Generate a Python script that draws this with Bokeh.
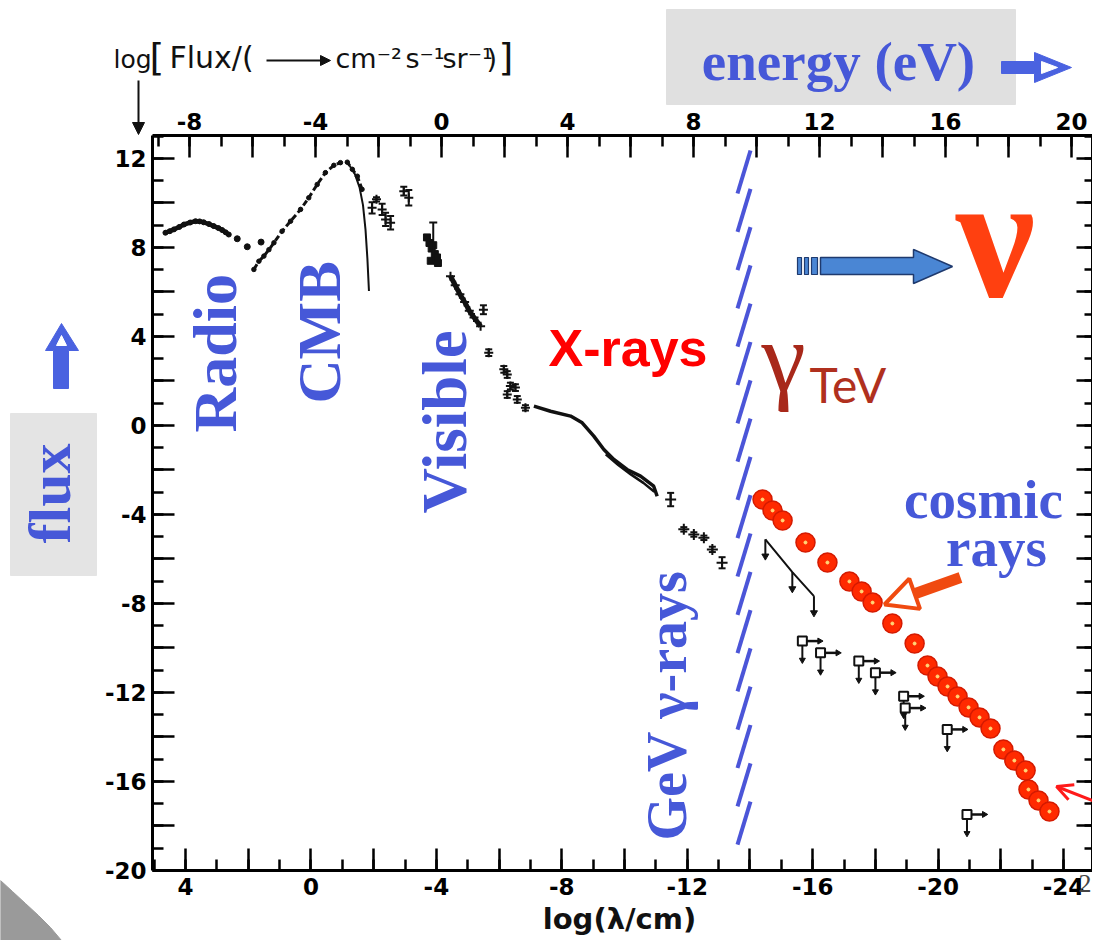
import math
from bokeh.plotting import figure
from bokeh.layouts import column
from bokeh.models import (Range1d, LinearAxis, FixedTicker, Label, Arrow,
                          NormalHead, OpenHead, PolyAnnotation)
from bokeh.embed import file_html
from bokeh.resources import INLINE

# ------------------------------------------------------------------ data
bottom_ticks = list(range(-24, 5, 2))
bottom_minor = list(range(-25, 6))
top_ticks = list(range(-8, 21, 2))
top_minor = list(range(-9, 21))
y_ticks = list(range(-20, 13, 2))
y_minor = list(range(-20, 14))

# log(lambda/cm) , log flux
radio_x = [4.64, 4.50, 4.37, 4.20, 4.05, 3.85, 3.68, 3.55, 3.42, 3.25, 3.10, 2.95, 2.83, 2.72, 2.62]
radio_y = [8.66, 8.73, 8.81, 8.92, 9.03, 9.12, 9.18, 9.17, 9.13, 9.05, 8.96, 8.87, 8.78, 8.68, 8.58]
radio_dots_x = [2.35, 2.03, 1.59]
radio_dots_y = [8.39, 8.03, 8.24]

cmb_x = [1.82, 1.66, 1.50, 1.34, 1.18, 0.92, 0.65, 0.33, 0.07, -0.20, -0.46, -0.73, -0.94, -1.16, -1.32, -1.48, -1.63]
cmb_y = [7.01, 7.38, 7.61, 7.90, 8.21, 8.73, 9.18, 9.71, 10.23, 10.83, 11.36, 11.69, 11.81, 11.83, 11.51, 11.20, 10.61]
cmb_curve_x = [-1.20, -1.40, -1.55, -1.66, -1.74, -1.80, -1.85]
cmb_curve_y = [11.75, 11.30, 10.70, 9.90, 8.80, 7.50, 6.04]

fir_x = [-1.95, -2.09, -2.27, -2.38, -2.54, -2.96, -3.12]
fir_y = [9.78, 10.16, 9.71, 9.26, 9.11, 10.53, 10.23]
fir_err = [0.25, 0.10, 0.25, 0.30, 0.30, 0.20, 0.35]

vis_x = [-3.70, -3.78, -3.85, -3.90, -3.95, -4.02, -3.82, -4.05]
vis_y = [8.45, 8.20, 7.95, 8.10, 7.70, 7.55, 7.40, 7.30]
vis_bar_x = [-3.90]
vis_bar_lo = [7.30]
vis_bar_hi = [9.12]

uv_x = [-4.45, -4.60, -4.75, -4.90, -5.05, -5.20, -5.41]
uv_y = [6.71, 6.30, 5.90, 5.55, 5.15, 4.85, 4.46]

opt_x = [-5.50, -5.67, -6.15, -6.26, -6.36, -6.52, -6.26, -6.58, -6.84]
opt_y = [5.20, 3.27, 2.52, 2.29, 1.77, 1.70, 1.39, 1.17, 0.79]
opt_err = [0.20, 0.15, 0.15, 0.15, 0.15, 0.15, 0.15, 0.15, 0.12]

xray_x = [-7.11, -7.64, -8.28, -8.65, -9.02, -9.34, -9.66, -10.08, -10.51, -10.93, -11.04]
xray_y = [0.87, 0.64, 0.42, 0.12, -0.48, -1.08, -1.53, -1.98, -2.28, -2.73, -3.18]
xray2_x = [-9.40, -9.80, -10.20, -10.60, -10.95]
xray2_y = [-1.30, -1.78, -2.20, -2.58, -2.98]

hx_x = [-11.47, -11.89, -12.21, -12.53, -12.80, -13.11]
hx_y = [-3.33, -4.67, -4.90, -5.05, -5.57, -6.17]
hx_err = [0.30, 0.10, 0.10, 0.10, 0.12, 0.25]

gev_x = [-14.49, -15.35, -16.04]
gev_y = [-5.12, -6.59, -7.67]

tev_x = [-15.67, -16.25, -17.47, -18.00, -18.90, -18.95, -20.29, -20.92]
tev_y = [-9.69, -10.22, -10.59, -11.11, -12.17, -12.70, -13.66, -17.48]

cr_x = [-14.40, -14.72, -15.04, -15.77, -16.47, -17.17, -17.56, -17.91, -18.54, -19.25,
        -19.66, -19.98, -20.30, -20.62, -20.97, -21.32, -21.67, -22.08, -22.43, -22.79,
        -22.88, -23.20, -23.55]
cr_y = [-3.33, -3.82, -4.27, -5.26, -6.16, -7.01, -7.46, -7.96, -8.90, -9.80,
        -10.79, -11.28, -11.73, -12.18, -12.67, -13.12, -13.62, -14.56, -15.06, -15.51,
        -16.36, -16.85, -17.35]

# ------------------------------------------------------------------ layout helpers
W, H = 1092, 940
FL, FR, FT, FB = 152.0, 1092.0, 135.0, 870.0      # frame in canvas pixels
X0 = 4 + (185 - FL) / 31.36
X1 = 4 - (FR - 185) / 31.36
Y0, Y1 = -20.0, 13.03
E0, E1 = (FL - 441) / 31.5, (FR - 441) / 31.5
K = 0.38   # baseline correction (fraction of font size)


def dx(px):
    return X0 + (px - FL) * (X1 - X0) / (FR - FL)


def dy(py):
    return Y0 + (FB - py) * (Y1 - Y0) / (FB - FT)


BLUE = "#4658d8"
BLACK = "#111111"
SERIF = "Liberation Serif"

p = figure(width=W, height=H, x_range=Range1d(X0, X1), y_range=Range1d(Y0, Y1),
           output_backend="svg", toolbar_location=None,
           min_border_left=int(FL), min_border_right=0, min_border_top=int(FT),
           min_border_bottom=int(H - FB))
p.extra_x_ranges = {"E": Range1d(E0, E1)}
p.xgrid.visible = False
p.ygrid.visible = False
p.outline_line_color = None
p.background_fill_color = "white"
p.border_fill_color = "white"


def style_axis(ax, ticks, minor, labeled, standoff, size="23px"):
    ax.ticker = FixedTicker(ticks=ticks, minor_ticks=minor)
    ax.major_label_overrides = {t: (str(t) if t in labeled else "") for t in ticks}
    ax.axis_line_width = 3
    ax.axis_line_color = "black"
    ax.major_tick_line_width = 2.5
    ax.minor_tick_line_width = 2.5
    ax.major_tick_line_color = "black"
    ax.minor_tick_line_color = "black"
    ax.major_tick_in = 22
    ax.major_tick_out = 0
    ax.minor_tick_in = 11
    ax.minor_tick_out = 0
    ax.major_label_text_font = "DejaVu Sans"
    ax.major_label_text_font_style = "bold"
    ax.major_label_text_font_size = size
    ax.major_label_text_color = "black"
    ax.major_label_standoff = standoff


style_axis(p.xaxis[0], bottom_ticks, bottom_minor, [t for t in bottom_ticks if t % 4 == 0], 7)
style_axis(p.yaxis[0], y_ticks, y_minor, [t for t in y_ticks if t % 4 == 0], 6)
top_ax = LinearAxis(x_range_name="E")
style_axis(top_ax, top_ticks, top_minor, [t for t in top_ticks if t % 4 == 0], 6)
p.add_layout(top_ax, "above")
right_ax = LinearAxis()
style_axis(right_ax, y_ticks, y_minor, [], 0, size="0px")
right_ax.major_tick_in = 16
right_ax.minor_tick_in = 8
p.add_layout(right_ax, "right")

# ------------------------------------------------------------------ overlay canvases for things outside the frame
# The column aligns every plot frame with the main frame (canvas x 152..1092).
# Overlay A is shifted left by 152 px, so its frame covers page x 0..940;
# overlay B is not shifted, so its frame covers page x 152..1092.
S = int(FL)
FW = int(FR - FL)


def make_overlay(x_lo, shift):
    o = figure(width=W + shift, height=H, x_range=Range1d(x_lo, x_lo + FW), y_range=Range1d(0, H),
               output_backend="svg", toolbar_location=None, min_border=0,
               x_axis_location=None, y_axis_location=None)
    o.grid.visible = False
    o.outline_line_color = None
    o.background_fill_color = None
    o.border_fill_color = None
    o.margin = (-H, 0, 0, -shift)
    return o


ovA = make_overlay(0, S)
ovB = make_overlay(S, 0)


def oy(py):
    return H - py


def opoly(o, pts, fill, line=None, lw=1.0):
    o.patch([u for u, v in pts], [oy(v) for u, v in pts], fill_color=fill,
            line_color=line if line else fill, line_width=lw)


def poly(pts, fill, line=None, lw=1.0):
    p.add_layout(PolyAnnotation(xs=[dx(u) for u, v in pts], ys=[dy(v) for u, v in pts],
                                fill_color=fill, fill_alpha=1.0, line_color=line,
                                line_width=lw, line_alpha=1.0 if line else 0.0))


# grey corner
opoly(ovA, [(0, 880), (12, 891), (25, 903), (38, 915), (50, 927), (61, 940), (0, 940)], "#9a9a9a")
# grey boxes
opoly(ovB, [(666, 9), (1015, 9), (1015, 104), (666, 104)], "#e0e0e0")
opoly(ovA, [(10, 413), (96, 413), (96, 575), (10, 575)], "#e4e4e4")
# up arrow next to flux
opoly(ovA, [(53, 388), (68, 388), (68, 350), (78, 350), (61, 323), (45, 350), (53, 350)], "#4a62e0")
opoly(ovA, [(56, 345), (66, 345), (61, 335)], "white")
# energy arrow
opoly(ovB, [(1001, 61), (1034, 61), (1034, 52), (1071, 67), (1034, 82), (1034, 73), (1001, 73)], "#4a62e0")
opoly(ovB, [(1041, 61), (1041, 73), (1057, 67)], "white")
# blue block arrow toward nu
poly([(820, 257), (913, 257), (913, 249), (952, 266), (913, 283), (913, 274), (820, 274)],
     "#4a86d4", "#1f3a6e", 1.5)
for u0, u1 in [(797, 801), (804, 808), (811, 817)]:
    poly([(u0, 257), (u1, 257), (u1, 274), (u0, 274)], "#4a86d4", "#1f3a6e", 1.2)

# slanted blue dashes (break marks)
dash_x0, dash_y0, dash_x1, dash_y1 = [], [], [], []
for i in range(18):
    yb = 193 + i * 38.3
    dash_x0.append(dx(737)); dash_y0.append(dy(yb))
    dash_x1.append(dx(750)); dash_y1.append(dy(yb - 43))
p.segment(dash_x0, dash_y0, dash_x1, dash_y1, line_color="#4b55d8", line_width=4)

# ------------------------------------------------------------------ data marks
p.line(radio_x, radio_y, line_width=4.5, color=BLACK)
p.scatter(radio_x, radio_y, size=5, color=BLACK)
p.scatter(radio_dots_x, radio_dots_y, size=6, color=BLACK)
p.line(cmb_x, cmb_y, line_width=3, line_dash="6 3", color=BLACK)
p.scatter(cmb_x, cmb_y, size=4.5, color=BLACK)
p.line(cmb_curve_x, cmb_curve_y, line_width=2, color=BLACK)


def errpts(xs, ys, errs, marker="cross", size=9):
    lo = [y - e for y, e in zip(ys, errs)]
    hi = [y + e for y, e in zip(ys, errs)]
    p.segment(xs, lo, xs, hi, color=BLACK, line_width=2)
    p.scatter(xs, lo, marker="dash", size=7, color=BLACK, line_width=2)
    p.scatter(xs, hi, marker="dash", size=7, color=BLACK, line_width=2)
    p.scatter(xs, ys, marker=marker, size=size, color=BLACK, line_width=2)


errpts(fir_x, fir_y, fir_err)
p.scatter(vis_x, vis_y, marker="square", size=7, color=BLACK)
p.segment(vis_bar_x, vis_bar_lo, vis_bar_x, vis_bar_hi, color=BLACK, line_width=2)
p.scatter(vis_bar_x, vis_bar_hi, marker="dash", size=8, color=BLACK, line_width=2)
p.line(uv_x, uv_y, line_width=5, color=BLACK)
p.scatter(uv_x, uv_y, marker="cross", size=9, color=BLACK, line_width=2)
errpts(opt_x, opt_y, opt_err)
p.line(xray_x, xray_y, line_width=3.5, color=BLACK)
p.line(xray2_x, xray2_y, line_width=2.5, color=BLACK)
errpts(hx_x, hx_y, hx_err, size=11)

# GeV upper limits
p.line(gev_x, gev_y, line_width=2, color=BLACK)
gev_lo = [y - 0.75 for y in gev_y]
p.segment(gev_x, gev_y, gev_x, gev_lo, color=BLACK, line_width=2)
p.scatter(gev_x, gev_lo, marker="triangle", angle=math.pi, size=7, color=BLACK)

# TeV limits
tev_lo = [y - 0.85 for y in tev_y]
tev_r = [x - 0.55 for x in tev_x]
p.segment(tev_x, tev_y, tev_x, tev_lo, color=BLACK, line_width=2)
p.scatter(tev_x, tev_lo, marker="triangle", angle=math.pi, size=6, color=BLACK)
p.segment(tev_x, tev_y, tev_r, tev_y, color=BLACK, line_width=2.5)
p.scatter(tev_r, tev_y, marker="triangle", angle=-math.pi / 2, size=6, color=BLACK)
p.scatter(tev_x, tev_y, marker="square", size=9, fill_color="white", line_color=BLACK, line_width=2)

# cosmic rays
p.scatter(cr_x, cr_y, size=19, fill_color="#ff2a00", line_color="#d41a00", line_width=1.5)
p.scatter(cr_x, cr_y, size=3, color="#ffd878")


# ------------------------------------------------------------------ texts
def lab(px, py, text, font, size, color, style="normal", rot=False, align="left",
        target=None, k=K):
    if rot:
        ax_, ay_ = px - k * size, py
    else:
        ax_, ay_ = px, py - k * size
    if target is not None:
        xx, yy, tgt = ax_, oy(ay_), target
    else:
        xx, yy, tgt = dx(ax_), dy(ay_), p
    tgt.add_layout(Label(x=xx, y=yy, text=text, text_font=font, text_font_size=f"{size}px",
                         text_font_style=style, text_color=color,
                         angle=(math.pi / 2 if rot else 0.0),
                         text_align=align, text_baseline="alphabetic"))


lab(238, 432, "Radio", SERIF, 62, BLUE, "bold", rot=True)
lab(342, 403, "CMB", SERIF, 61, BLUE, "bold", rot=True)
lab(468, 513, "Visible", SERIF, 63, BLUE, "bold", rot=True)
lab(688, 840, "GeV γ-rays", SERIF, 56, BLUE, "bold", rot=True)
lab(548, 367, "X-rays", "Liberation Sans", 52, "#ff0000", "bold")
lab(761, 395, "γ", SERIF, 100, "#a8281a")
lab(809, 402, "TeV", "Lato", 48, "#b0301e")
lab(995, 298, "ν", SERIF, 178, "#ff4010", "bold", align="center", k=0.35)
lab(983, 520, "cosmic", SERIF, 55, BLUE, "bold", align="center")
lab(996, 568, "rays", SERIF, 55, BLUE, "bold", align="center")

lab(72, 543, "flux", SERIF, 60, BLUE, "bold", rot=True, target=ovA)
lab(838, 82, "energy (eV)", SERIF, 55, BLUE, "bold", align="center", target=ovB)
F = "DejaVu Sans"
lab(113, 68, "log", F, 25, BLACK, target=ovA)
lab(149, 71, "[", F, 38, BLACK, target=ovA)
lab(169, 68, "Flux/(", F, 30, BLACK, target=ovA)
lab(335, 68, "cm⁻²", F, 27, BLACK, target=ovA)
lab(405, 68, "s⁻¹", F, 27, BLACK, target=ovA)
lab(442, 68, "sr⁻¹", F, 27, BLACK, target=ovA)
lab(486, 68, ")", F, 27, BLACK, target=ovA)
lab(498, 71, "]", F, 38, BLACK, target=ovA)
lab(619, 930, "log(λ/cm)", F, 29, BLACK, "bold", align="center", target=ovA)
lab(1078, 893, "2", SERIF, 26, "#444444", target=ovB)

# arrows
ovA.add_layout(Arrow(x_start=266, y_start=oy(60), x_end=330, y_end=oy(60),
                     line_width=2, line_color=BLACK,
                     end=NormalHead(size=10, fill_color=BLACK, line_color=BLACK)))
ovA.add_layout(Arrow(x_start=138, y_start=oy(80), x_end=138, y_end=oy(134),
                     line_width=2, line_color=BLACK,
                     end=NormalHead(size=12, fill_color=BLACK, line_color=BLACK)))
p.add_layout(Arrow(x_start=dx(960), y_start=dy(577), x_end=dx(884), y_end=dy(604),
                   line_width=11, line_color="#f04a10",
                   end=NormalHead(size=32, fill_color="white", line_color="#f04a10", line_width=4)))
p.add_layout(Arrow(x_start=dx(1092), y_start=dy(800), x_end=dx(1056), y_end=dy(786),
                   line_width=3, line_color="#ff1a1a",
                   end=OpenHead(size=16, line_width=3, line_color="#ff1a1a")))

layout = column(p, ovA, ovB, spacing=0)
open("out.html", "w").write(file_html(layout, INLINE))
